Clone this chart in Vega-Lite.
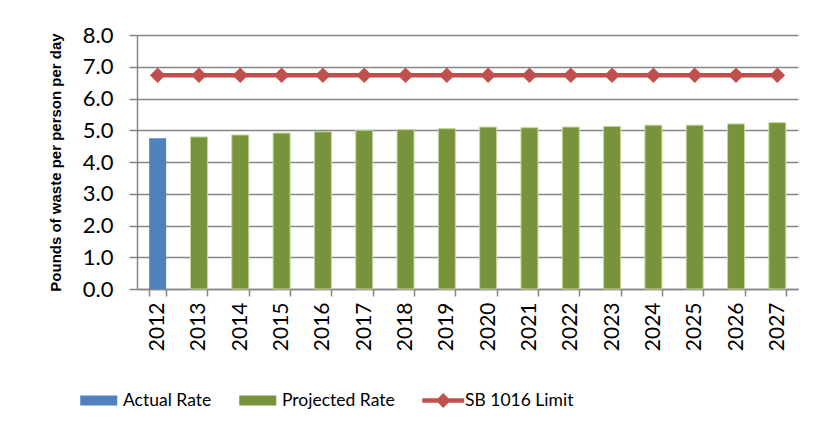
{
  "$schema": "https://vega.github.io/schema/vega-lite/v6.json",
  "width": 661,
  "height": 254,
  "autosize": {"type": "none"},
  "padding": {"left": 137, "top": 35, "right": 20, "bottom": 151},
  "background": "white",
  "config": {
    "font": "Lato",
    "view": {"stroke": null},
    "axis": {"labelFont": "Lato", "labelColor": "#000000", "titleColor": "#000000", "domainColor": "#868686", "tickColor": "#868686", "gridColor": "#868686"},
    "axisY": {"tickCount": 10},
    "legend": {"symbolType": "M-1,-0.55H3V0.55H-1Z"}
  },
  "data": {
    "values": [
      {"year": "2012", "rate": 4.75, "series": "Actual Rate", "limit": 6.73},
      {"year": "2013", "rate": 4.79, "series": "Projected Rate", "limit": 6.73},
      {"year": "2014", "rate": 4.85, "series": "Projected Rate", "limit": 6.73},
      {"year": "2015", "rate": 4.91, "series": "Projected Rate", "limit": 6.73},
      {"year": "2016", "rate": 4.95, "series": "Projected Rate", "limit": 6.73},
      {"year": "2017", "rate": 5.0, "series": "Projected Rate", "limit": 6.73},
      {"year": "2018", "rate": 5.02, "series": "Projected Rate", "limit": 6.73},
      {"year": "2019", "rate": 5.05, "series": "Projected Rate", "limit": 6.73},
      {"year": "2020", "rate": 5.1, "series": "Projected Rate", "limit": 6.73},
      {"year": "2021", "rate": 5.08, "series": "Projected Rate", "limit": 6.73},
      {"year": "2022", "rate": 5.1, "series": "Projected Rate", "limit": 6.73},
      {"year": "2023", "rate": 5.12, "series": "Projected Rate", "limit": 6.73},
      {"year": "2024", "rate": 5.16, "series": "Projected Rate", "limit": 6.73},
      {"year": "2025", "rate": 5.16, "series": "Projected Rate", "limit": 6.73},
      {"year": "2026", "rate": 5.2, "series": "Projected Rate", "limit": 6.73},
      {"year": "2027", "rate": 5.24, "series": "Projected Rate", "limit": 6.73}
    ]
  },
  "encoding": {
    "x": {
      "field": "year",
      "type": "ordinal",
      "scale": {"paddingInner": 0.59, "paddingOuter": 0.295},
      "axis": {
        "title": null,
        "labelAngle": 270,
        "labelAlign": "right",
        "labelBaseline": "middle",
        "labelFontSize": 21,
        "labelPadding": 6,
        "tickBand": "extent",
        "tickSize": 7,
        "tickWidth": 1.5,
        "domainWidth": 1.5
      }
    }
  },
  "layer": [
    {
      "mark": {"type": "bar", "strokeWidth": 1},
      "encoding": {
        "y": {
          "field": "rate",
          "type": "quantitative",
          "scale": {"domain": [0, 8], "nice": false},
          "axis": {
            "title": "Pounds of waste per person per day",
            "titleFont": "Liberation Sans",
            "titleFontSize": 15,
            "titleFontWeight": "bold",
            "titlePadding": 19,
            "values": [0, 1, 2, 3, 4, 5, 6, 7, 8],
            "tickCount": 10,
            "format": ".1f",
            "labelOverlap": false,
            "labelFontSize": 22,
            "labelPadding": 16,
            "tickSize": 8,
            "tickWidth": 1.5,
            "gridWidth": 1.5,
            "domainWidth": 1.5
          }
        },
        "color": {
          "field": "series",
          "type": "nominal",
          "scale": {"domain": ["Actual Rate", "Projected Rate", "SB 1016 Limit"], "range": ["#4f81bd", "#77933c", "#c0504d"]},
          "legend": {
            "title": null,
            "orient": "none",
            "legendX": -57,
            "legendY": 356,
            "direction": "horizontal",
            "labelFont": "Lato",
            "labelFontSize": 17.5,
            "labelColor": "#000000",
            "symbolSize": 342,
            "labelOffset": 24,
            "columnPadding": 27,
            "symbolOpacity": 1,
            "encode": {
              "symbols": {
                "update": {
                  "shape": [
                    {"test": "datum.value === 'SB 1016 Limit'", "value": "M-1,-0.24H0.71L1.27,-0.8L1.83,-0.24H3.54V0.24H1.83L1.27,0.8L0.71,0.24H-1Z"},
                    {"value": "M-1,-0.55H3V0.55H-1Z"}
                  ],
                  "fill": {"signal": "scale('color', datum.value)"},
                  "stroke": {"value": "transparent"},
                  "strokeWidth": {"value": 0},
                  "opacity": {"value": 1}
                }
              }
            }
          }
        },
        "stroke": {
          "condition": {"test": "datum.series === 'Projected Rate'", "value": "#c3d69b"},
          "value": null
        }
      }
    },
    {
      "mark": {"type": "line", "strokeWidth": 4.5},
      "encoding": {
        "y": {
          "field": "limit",
          "type": "quantitative",
          "scale": {"domain": [0, 8], "nice": false},
          "axis": {
            "title": "Pounds of waste per person per day",
            "titleFont": "Liberation Sans",
            "titleFontSize": 15,
            "titleFontWeight": "bold",
            "titlePadding": 19,
            "values": [0, 1, 2, 3, 4, 5, 6, 7, 8],
            "tickCount": 10,
            "format": ".1f",
            "labelOverlap": false,
            "labelFontSize": 22,
            "labelPadding": 16,
            "tickSize": 8,
            "tickWidth": 1.5,
            "gridWidth": 1.5,
            "domainWidth": 1.5
          }
        },
        "color": {
          "datum": "SB 1016 Limit",
          "type": "nominal",
          "legend": {
            "title": null,
            "orient": "none",
            "legendX": -57,
            "legendY": 356,
            "direction": "horizontal",
            "labelFont": "Lato",
            "labelFontSize": 17.5,
            "labelColor": "#000000",
            "symbolSize": 342,
            "labelOffset": 24,
            "columnPadding": 27,
            "symbolOpacity": 1,
            "encode": {
              "symbols": {
                "update": {
                  "shape": [
                    {"test": "datum.value === 'SB 1016 Limit'", "value": "M-1,-0.24H0.71L1.27,-0.8L1.83,-0.24H3.54V0.24H1.83L1.27,0.8L0.71,0.24H-1Z"},
                    {"value": "M-1,-0.55H3V0.55H-1Z"}
                  ],
                  "fill": {"signal": "scale('color', datum.value)"},
                  "stroke": {"value": "transparent"},
                  "strokeWidth": {"value": 0},
                  "opacity": {"value": 1}
                }
              }
            }
          }
        }
      }
    },
    {
      "mark": {"type": "point", "shape": "diamond", "filled": true, "size": 240, "opacity": 1},
      "encoding": {
        "y": {
          "field": "limit",
          "type": "quantitative",
          "scale": {"domain": [0, 8], "nice": false},
          "axis": {
            "title": "Pounds of waste per person per day",
            "titleFont": "Liberation Sans",
            "titleFontSize": 15,
            "titleFontWeight": "bold",
            "titlePadding": 19,
            "values": [0, 1, 2, 3, 4, 5, 6, 7, 8],
            "tickCount": 10,
            "format": ".1f",
            "labelOverlap": false,
            "labelFontSize": 22,
            "labelPadding": 16,
            "tickSize": 8,
            "tickWidth": 1.5,
            "gridWidth": 1.5,
            "domainWidth": 1.5
          }
        },
        "color": {"datum": "SB 1016 Limit", "type": "nominal"}
      }
    }
  ]
}
